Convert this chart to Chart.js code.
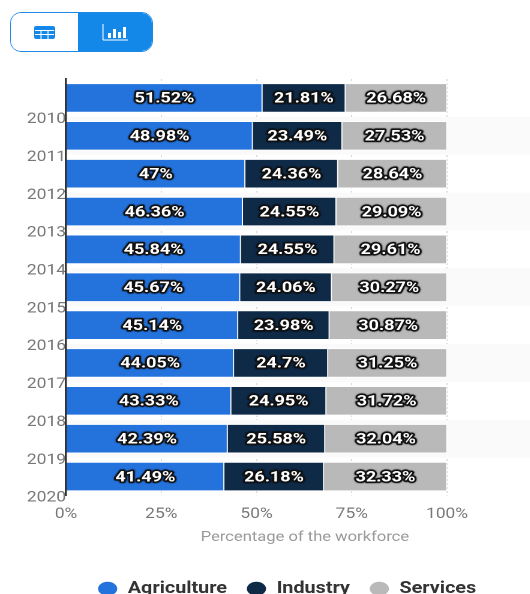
<!DOCTYPE html>
<html>
<head>
<meta charset="utf-8">
<script src="https://cdn.jsdelivr.net/npm/chart.js@4"></script>
<style>
  html, body { margin: 0; padding: 0; background: #fff; overflow: hidden; }
  #wrap { position: relative; width: 530px; height: 594px; overflow: hidden; }
  /* the whole chart is drawn narrow and widened by 1.2 */
  #stretch { position: absolute; left: 0; top: 0; width: 442px; height: 607px; transform: scaleX(1.2); transform-origin: 0 0; }
  .toggle { position: absolute; left: 10px; top: 12px; width: 143px; height: 40px; border: 1px solid #1e88e5;
            border-radius: 11px; overflow: hidden; display: flex; box-sizing: border-box; }
  .toggle div { display: flex; align-items: center; justify-content: center; }
  .toggle .table-btn { width: 67px; background: #fff; }
  .toggle .chart-btn { flex: 1; background: #1488e8; }
</style>
</head>
<body>
<div id="wrap">
  <div id="stretch"><canvas id="chart-canvas"></canvas></div>
  <div class="toggle">
    <div class="table-btn">
      <svg width="21" height="13" viewBox="0 0 21 13">
        <rect width="21" height="13" rx="2" fill="#1488e8"/>
        <path d="M1 4.500h19M1 8.500h19M7 4v9M14 4v9" stroke="#fff" stroke-width="1"/>
      </svg>
    </div>
    <div class="chart-btn">
      <svg width="26" height="17" viewBox="0 0 26 17">
        <path d="M1 0v16h25" fill="none" stroke="#fff" stroke-width="1"/>
        <path d="M6 9h3v5H6zM11 5h3v9h-3zM16 8h3v6h-3zM21 3h3v11h-3z" fill="#fff"/>
      </svg>
    </div>
  </div>
</div>
<script>
var years = ['2010','2011','2012','2013','2014','2015','2016','2017','2018','2019','2020'];
var agriculture = [51.52, 48.98, 47, 46.36, 45.84, 45.67, 45.14, 44.05, 43.33, 42.39, 41.49];
var industry = [21.81, 23.49, 24.36, 24.55, 24.55, 24.06, 23.98, 24.7, 24.95, 25.58, 26.18];
var services = [26.68, 27.53, 28.64, 29.09, 29.61, 30.27, 30.87, 31.25, 31.72, 32.04, 32.33];
var xTicks = [0, 25, 50, 75, 100];

// Alternating row bands behind the bars, running out to the canvas edge
var rowBands = {
    id: 'rowBands',
    beforeDatasetsDraw: function(chart){
        var ctx = chart.ctx, y = chart.scales.y, step = y.getPixelForValue(1) - y.getPixelForValue(0);
        ctx.save();
        ctx.fillStyle = '#fafafa';
        years.forEach(function(year, i){
            if (i % 2 === 1) {
                ctx.fillRect(chart.chartArea.left, y.getPixelForValue(i) - step / 2, chart.width, step);
            }
        });
        ctx.restore();
    }
};

// Percent labels: white bold text with a dark halo, centred in each segment
var segmentLabels = {
    id: 'segmentLabels',
    afterDatasetsDraw: function(chart){
        var ctx = chart.ctx;
        ctx.save();
        ctx.font = 'bold 15px Roboto';
        ctx.textAlign = 'center';
        ctx.textBaseline = 'middle';
        chart.data.datasets.forEach(function(ds, d){
            chart.getDatasetMeta(d).data.forEach(function(bar, i){
                var x = (bar.x + bar.base) / 2, y = bar.y + 1;
                ctx.shadowColor = '#000';
                ctx.shadowBlur = 3;
                ctx.lineJoin = 'round';
                ctx.lineWidth = 3;
                ctx.strokeStyle = '#111';
                ctx.strokeText(ds.data[i] + '%', x, y);
                ctx.shadowBlur = 0;
                ctx.fillStyle = '#fff';
                ctx.fillText(ds.data[i] + '%', x, y);
            });
        });
        ctx.restore();
    }
};

// Axis caption sits off-centre, to the right of the 50% tick
var axisCaption = {
    id: 'axisCaption',
    afterDraw: function(chart){
        var ctx = chart.ctx, x = chart.scales.x;
        ctx.save();
        ctx.font = '13.800px Roboto';
        ctx.fillStyle = '#999';
        ctx.textAlign = 'center';
        ctx.textBaseline = 'middle';
        ctx.fillText('Percentage of the workforce', x.getPixelForValue(62.7), x.top + 42);
        ctx.restore();
    }
};

// Legend sits right of the page centre, so widen its box before it draws
var legendShift = {
    id: 'legendShift',
    afterLayout: function(chart){
        chart.legend.left = 0;
        chart.legend.right = 478;
    }
};

function barSet(label, data, color){
    return {
        label: label,
        data: data,
        backgroundColor: color,
        borderColor: '#fff',
        borderWidth: 1,
        barThickness: 29,
        stack: 'workforce'
    };
}

var ctx = document.getElementById('chart-canvas');
ctx.width = 442;
ctx.height = 607;
var myChart = new Chart(ctx, {
    type: 'bar',
    data: {
        labels: years,
        datasets: [
            barSet('Agriculture', agriculture, '#2472dc'),
            barSet('Industry', industry, '#0f2a47'),
            barSet('Services', services, '#b9b9b9')
        ]
    },
    plugins: [rowBands, segmentLabels, axisCaption, legendShift],
    options: {
        indexAxis: 'y',
        responsive: false,
        animation: false,
        devicePixelRatio: 2,
        layout: {
            padding: { left: 0, right: 69.5, top: 79, bottom: 0 }
        },
        plugins: {
            tooltip: { enabled: false },
            legend: {
                position: 'bottom',
                labels: {
                    usePointStyle: true,
                    pointStyle: 'circle',
                    pointStyleWidth: 17,
                    boxHeight: 10.600,
                    padding: 16,
                    color: '#333',
                    font: { family: 'Roboto', size: 16.500, weight: 'bold' }
                }
            }
        },
        scales: {
            x: {
                stacked: true,
                min: 0,
                max: 100,
                afterFit: function(axis){ axis.height = 69; },
                afterBuildTicks: function(axis){
                    axis.ticks = xTicks.map(function(v){ return { value: v }; });
                },
                grid: {
                    color: '#d8d8d8',
                    drawTicks: false,
                    lineWidth: 1
                },
                border: { display: false, dash: [2, 2] },
                ticks: {
                    color: '#777',
                    padding: 10,
                    maxRotation: 0,
                    font: { family: 'Roboto', size: 14.500 },
                    callback: function(v){ return v + '%'; }
                }
            },
            y: {
                stacked: true,
                afterFit: function(axis){ axis.width = 55; },
                grid: { display: false, drawTicks: false },
                border: { display: true, color: '#333', width: 1.700, z: 1 },
                ticks: {
                    color: '#777',
                    padding: 0,
                    labelOffset: 21.500,
                    font: { family: 'Roboto', size: 14.500 }
                }
            }
        }
    }
});
</script>
</body>
</html>
